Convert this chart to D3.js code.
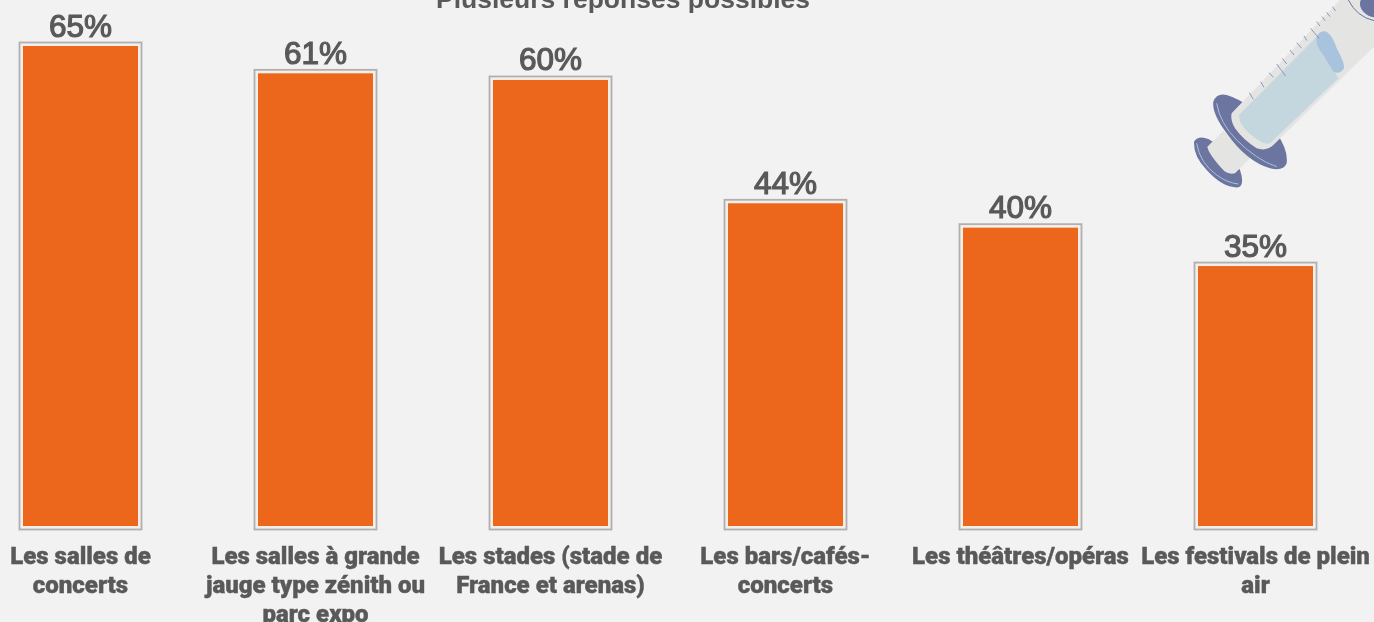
<!DOCTYPE html>
<html>
<head>
<meta charset="utf-8">
<script src="https://cdn.jsdelivr.net/npm/d3@7"></script>
<style>
  html, body { margin: 0; padding: 0; background: #f2f2f2; overflow: hidden; }
  svg { display: block; }
  .title { font: bold 26.5px "Liberation Sans", sans-serif; fill: #595959; filter: blur(0.5px); }
  .value { font: 31.5px "Liberation Sans", sans-serif; fill: #595959; stroke: #595959; stroke-width: 1.2px; filter: blur(0.6px); }
  .axis text { font: 900 24px Roboto, sans-serif; fill: #595959; stroke: #595959; stroke-width: 0.4px; filter: blur(0.7px); }
  .bar rect { filter: blur(0.4px); }
</style>
</head>
<body>
<div id="chart"></div>
<script>
// values
var categories = ["Les salles de concerts", "Les salles à grande jauge type zénith ou parc expo",
  "Les stades (stade de France et arenas)", "Les bars/cafés-concerts",
  "Les théâtres/opéras", "Les festivals de plein air"];
var values = [65, 61.3, 60.4, 43.7, 40.4, 35.2];
var categoryLines = [
  ["Les salles de", "concerts"],
  ["Les salles à grande", "jauge type zénith ou", "parc expo"],
  ["Les stades (stade de", "France et arenas)"],
  ["Les bars/cafés-", "concerts"],
  ["Les théâtres/opéras"],
  ["Les festivals de plein", "air"]
];
var title = "Plusieurs réponses possibles";

var width = 1374, height = 622;

var svg = d3.select("#chart").append("svg")
  .attr("width", width)
  .attr("height", height);

var x = d3.scaleBand()
  .domain(categories)
  .range([-37, 1373])
  .paddingInner(120 / 235)
  .paddingOuter(60 / 235);

var y = d3.scaleLinear()
  .domain([0, 65])
  .range([526, 46]);

svg.append("text")
  .attr("class", "title")
  .attr("x", 623)
  .attr("y", 8)
  .attr("text-anchor", "middle")
  .text(title);

var bar = svg.selectAll(".bar")
  .data(categories)
  .enter().append("g")
    .attr("class", "bar");

// grey frame round each bar, then a pale inner edge, then the orange
bar.append("rect")
  .attr("x", function(d) { return x(d) - 3.5; })
  .attr("y", function(d, i) { return y(values[i]) - 3.5; })
  .attr("width", x.bandwidth() + 7)
  .attr("height", function(d, i) { return y(0) - y(values[i]) + 7; })
  .attr("fill", "#f4efe9")
  .attr("stroke", "#b0b0b0")
  .attr("stroke-width", 1.8);

bar.append("rect")
  .attr("x", function(d) { return x(d); })
  .attr("y", function(d, i) { return y(values[i]); })
  .attr("width", x.bandwidth())
  .attr("height", function(d, i) { return y(0) - y(values[i]); })
  .attr("fill", "#ec671b");

bar.append("text")
  .attr("class", "value")
  .attr("x", function(d) { return x(d) + x.bandwidth() / 2; })
  .attr("y", function(d, i) { return y(values[i]) - 9.5; })
  .attr("text-anchor", "middle")
  .text(function(d, i) { return Math.round(values[i]) + "%"; });

var axis = svg.append("g")
  .attr("class", "axis")
  .attr("transform", "translate(0,529)")
  .call(d3.axisBottom(x).tickSize(0).tickFormat(""));

axis.select(".domain").remove();

axis.selectAll(".tick text").each(function(d, i) {
  var t = d3.select(this).text(null).attr("y", null).attr("dy", null);
  categoryLines[i].forEach(function(line, j) {
    t.append("tspan")
      .attr("x", 0)
      .attr("y", 35 + j * 29.2)
      .text(line);
  });
});

// syringe in the corner, coordinates in 3x crop units
var syringe = svg.append("g")
  .attr("transform", "translate(1170,0) scale(" + 1 / 3 + ")")
  .style("filter", "blur(0.4px)");

var shapes = [
  ["M72 425 Q85 405 115 417 Q170 445 210 510 Q225 555 205 562 Q160 565 110 510 Q70 470 72 425 Z", "#6b75a0"],
  ["M112 440 L160 392 L240 475 L195 520 Q170 525 155 505 Q115 460 112 440 Z", "#e4e4e2"],
  ["M130 305 Q140 278 170 285 Q250 310 320 400 Q355 450 350 490 Q340 515 300 505 Q230 485 170 400 Q125 340 130 305 Z", "#6b75a0"],
  ["M185 340 L510 0 L612 0 L612 140 L525 225 L310 435 Q290 455 260 445 Q220 420 195 385 Q180 360 185 340 Z", "#e4e4e2"],
  ["M207 345 L440 110 L505 235 L300 430 Q285 435 265 420 Q230 400 210 365 Z", "#c4d7de"],
  ["M440 110 Q450 90 470 95 Q490 110 500 145 Q525 190 522 205 Q510 225 490 215 Q475 190 460 165 Q435 135 440 110 Z", "#a9c2de"],
  ["M572 0 Q565 20 580 35 Q595 50 612 52 L612 0 Z", "#6b75a0"]
];
syringe.selectAll(".shape")
  .data(shapes)
  .enter().append("path")
    .attr("d", function(d) { return d[0]; })
    .attr("fill", function(d) { return d[1]; });

syringe.append("path")
  .attr("d", "M140 310 Q150 370 200 420 Q260 480 320 500 M80 430 Q90 490 140 525 Q170 548 205 552")
  .attr("fill", "none")
  .attr("stroke", "#a9c2de")
  .attr("stroke-width", 3);

syringe.append("path")
  .attr("d", "M535 0 Q560 50 612 62")
  .attr("fill", "none")
  .attr("stroke", "#6b75a0")
  .attr("stroke-width", 3);

syringe.append("path")
  .attr("d", "M238 278L250 298M272 245L282 262M297 218L310 232M320 192L347 228M337 175L350 192M360 150L372 165M380 128L395 145M402 108L411 122M422 85L447 115M440 65L450 78M456 50L465 62M470 37L480 50M487 20L497 33")
  .attr("fill", "none")
  .attr("stroke", "#7f88ad")
  .attr("stroke-width", 2.5);
</script>
</body>
</html>
